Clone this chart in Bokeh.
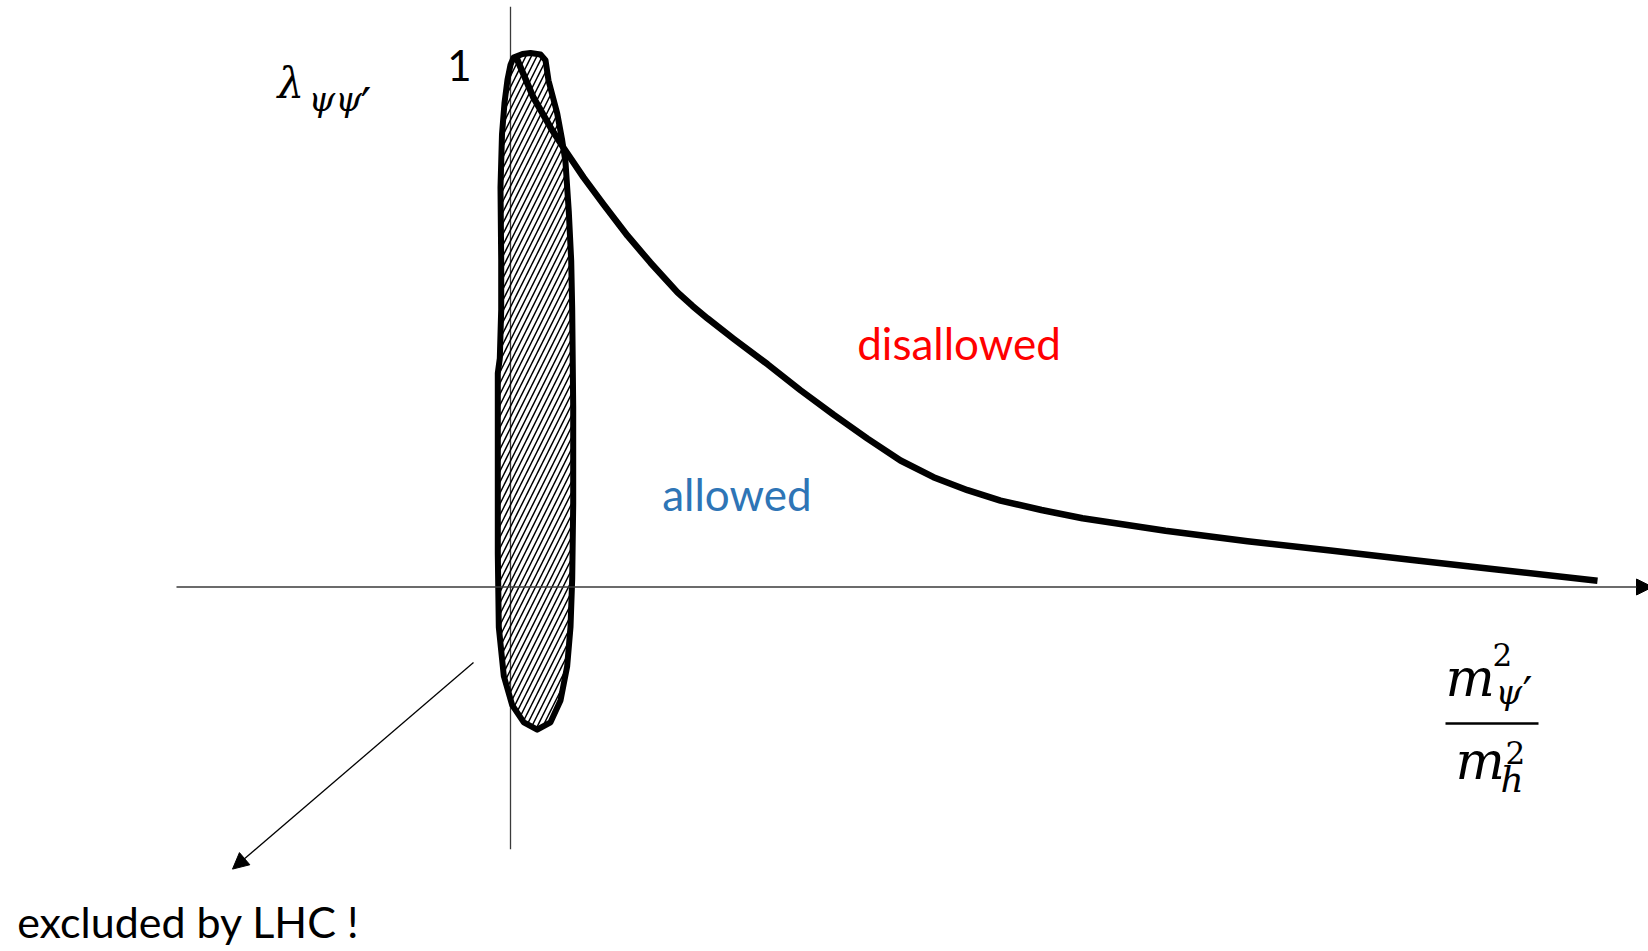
from bokeh.plotting import figure
from bokeh.models import Range1d, Arrow, NormalHead
from bokeh.core.properties import value
from bokeh.embed import file_html
from bokeh.resources import INLINE

# ---- data (schematic units: x = m_psi'^2/m_h^2 (arbitrary scale), y = lambda) ----
curve_x = [0.05, 0.23, 0.40, 0.53, 0.73, 0.93, 1.17, 1.40, 1.67, 1.82, 1.97, 2.23, 2.57, 2.90,
           3.23, 3.57, 3.90, 4.23, 4.57, 4.90, 5.31, 5.72, 6.55, 7.37, 8.20, 9.02, 9.84, 10.87]
curve_y = [1.021, 0.940, 0.883, 0.844, 0.787, 0.735, 0.675, 0.623, 0.566, 0.540, 0.516, 0.477,
           0.428, 0.378, 0.331, 0.285, 0.243, 0.211, 0.186, 0.166, 0.148, 0.132, 0.108,
           0.088, 0.070, 0.052, 0.034, 0.012]

blob_x = [0.03, 0.12, 0.20, 0.30, 0.35, 0.38, 0.467, 0.517, 0.55, 0.583, 0.607, 0.617, 0.627,
          0.627, 0.617, 0.60, 0.567, 0.50, 0.40, 0.267, 0.133, 0.017, -0.067, -0.117, -0.127,
          -0.127, -0.127, -0.107, -0.093, -0.093, -0.10, -0.085, -0.06, -0.03, 0.0]
blob_y = [1.017, 1.024, 1.026, 1.023, 1.012, 0.973, 0.910, 0.858, 0.816, 0.721, 0.627, 0.533,
          0.345, 0.159, 0.016, -0.077, -0.152, -0.218, -0.260, -0.274, -0.260, -0.227, -0.171,
          -0.077, 0.064, 0.252, 0.411, 0.439, 0.533, 0.627, 0.768, 0.870, 0.930, 0.975, 1.003]

label_disallowed = "disallowed"
label_allowed = "allowed"
label_excluded = "excluded by LHC !"
label_one = "1"

p = figure(width=1648, height=951, x_range=Range1d(-5.10, 11.38), y_range=Range1d(-0.7003, 1.1268),
           output_backend="svg", toolbar_location=None, min_border=0,
           x_axis_type=None, y_axis_type=None)
p.grid.visible = False
p.outline_line_color = None
p.background_fill_color = "white"
p.border_fill_color = "white"

axis_col = "#3a3a3a"
# axes
p.add_layout(Arrow(end=NormalHead(size=16, fill_color="black", line_color="black"),
                   x_start=-3.34, y_start=0.0, x_end=11.42, y_end=0.0,
                   line_width=1.3, line_color=axis_col))
p.line([0.0, 0.0], [1.115, -0.504], line_width=1.3, line_color=axis_col)

# excluded region
p.patch(blob_x, blob_y, fill_alpha=0.0, line_color="black", line_width=6, line_join="round",
        hatch_pattern="/", hatch_scale=11, hatch_weight=1.5, hatch_color="black")

# bound curve
p.line(curve_x, curve_y, line_color="black", line_width=6.5, line_join="round")

# arrow pointing to label
p.add_layout(Arrow(end=NormalHead(size=16, fill_color="black", line_color="black"),
                   x_start=-0.37, y_start=-0.145, x_end=-2.78, y_end=-0.542,
                   line_width=1.3, line_color="black"))

sans = value("Lato")
serif = value("DejaVu Serif")

p.text(x=[3.467], y=[0.4688], text=[label_disallowed], text_font=sans, text_font_size=value("44px"),
       text_color="#FF0000", text_baseline="alphabetic", text_align="left")
p.text(x=[1.517], y=[0.1793], text=[label_allowed], text_font=sans, text_font_size=value("44px"),
       text_color="#2E75B6", text_baseline="alphabetic", text_align="left")
p.text(x=[-4.933], y=[-0.6433], text=[label_excluded], text_font=sans, text_font_size=value("43px"),
       text_color="black", text_baseline="alphabetic", text_align="left")
p.text(x=[-0.51], y=[1.0012], text=[label_one], text_font=sans, text_font_size=value("42px"),
       text_color="black", text_baseline="alphabetic", text_align="center")

# y label  lambda_{psi psi'}
p.text(x=[-2.33], y=[0.968], text=["λ"], text_font=serif, text_font_style="italic",
       text_font_size=value("42px"), text_color="black", text_baseline="alphabetic")
p.text(x=[-2.02], y=[0.937], text=["ψψ"], text_font=serif, text_font_style="italic",
       text_font_size=value("34px"), text_color="black", text_baseline="alphabetic")
p.text(x=[-1.50], y=[0.925], text=["′"], text_font=serif,
       text_font_size=value("48px"), text_color="black", text_baseline="alphabetic")

# x label  m_psi'^2 / m_h^2
p.text(x=[9.35], y=[-0.1758], text=["m"], text_font=serif, text_font_style="italic",
       text_font_size=value("52px"), text_color="black", text_baseline="alphabetic")
p.text(x=[9.82], y=[-0.1290], text=["2"], text_font=serif,
       text_font_size=value("31px"), text_color="black", text_baseline="alphabetic")
p.text(x=[9.85], y=[-0.2008], text=["ψ"], text_font=serif, text_font_style="italic",
       text_font_size=value("34px"), text_color="black", text_baseline="alphabetic")
p.text(x=[10.12], y=[-0.2050], text=["′"], text_font=serif,
       text_font_size=value("44px"), text_color="black", text_baseline="alphabetic")
p.line([9.35, 10.28], [-0.2623, -0.2623], line_color="black", line_width=2.5)
p.text(x=[9.45], y=[-0.335], text=["m"], text_font=serif, text_font_style="italic",
       text_font_size=value("52px"), text_color="black", text_baseline="alphabetic")
p.text(x=[9.95], y=[-0.318], text=["2"], text_font=serif,
       text_font_size=value("31px"), text_color="black", text_baseline="alphabetic")
p.text(x=[9.90], y=[-0.370], text=["h"], text_font=serif, text_font_style="italic",
       text_font_size=value("36px"), text_color="black", text_baseline="alphabetic")

open("out.html", "w").write(file_html(p, INLINE))
